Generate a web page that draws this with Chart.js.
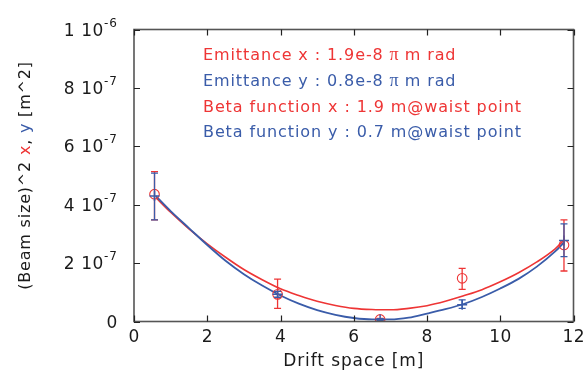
<!DOCTYPE html>
<html>
<head>
<meta charset="utf-8">
<script src="https://cdn.jsdelivr.net/npm/chart.js@4/dist/chart.umd.min.js"></script>
<style>
html,body{margin:0;padding:0;background:#fff;}
#wrap{width:583px;height:372px;position:relative;}
</style>
</head>
<body>
<div id="wrap"><canvas id="c" width="583" height="372"></canvas></div>
<script>
// ---- data ----
const xTicks = [0, 2, 4, 6, 8, 10, 12];
const xTickLabels = ['0', '2', '4', '6', '8', '10', '12'];
const yTicks = [0, 2e-7, 4e-7, 6e-7, 8e-7, 1e-6];
const yTickMain = ['0', '2 10', '4 10', '6 10', '8 10', '1 10'];
const yTickSup = ['', '-7', '-7', '-7', '-7', '-6'];

const measS = [0.56, 3.92, 6.72, 8.96, 11.74];
const sizeX2 = [4.36e-7, 0.93e-7, 0.07e-7, 1.48e-7, 2.62e-7];
const sizeX2Hi = [5.13e-7, 1.45e-7, 0.11e-7, 1.82e-7, 3.48e-7];
const sizeX2Lo = [3.48e-7, 0.45e-7, 0.03e-7, 1.10e-7, 1.73e-7];
const sizeY2 = [4.30e-7, 0.93e-7, 0.07e-7, 0.57e-7, 2.77e-7];
const sizeY2Hi = [5.08e-7, 1.03e-7, 0.10e-7, 0.74e-7, 3.34e-7];
const sizeY2Lo = [3.48e-7, 0.83e-7, 0.04e-7, 0.45e-7, 2.22e-7];

const fitS = [0.6, 1, 1.5, 2, 2.5, 3, 3.5, 4, 4.5, 5, 5.5, 6, 6.5, 7, 7.5, 8, 8.5, 9, 9.5, 10, 10.5, 11, 11.5, 11.75];
const fitX2 = [4.24e-7, 3.74e-7, 3.17e-7, 2.66e-7, 2.20e-7, 1.78e-7, 1.43e-7, 1.12e-7, 0.89e-7, 0.69e-7, 0.55e-7, 0.45e-7, 0.41e-7, 0.40e-7, 0.45e-7, 0.54e-7, 0.69e-7, 0.88e-7, 1.09e-7, 1.36e-7, 1.67e-7, 2.04e-7, 2.49e-7, 2.80e-7];
const fitY2 = [4.29e-7, 3.78e-7, 3.20e-7, 2.62e-7, 2.08e-7, 1.62e-7, 1.23e-7, 0.89e-7, 0.61e-7, 0.39e-7, 0.23e-7, 0.12e-7, 0.07e-7, 0.07e-7, 0.13e-7, 0.27e-7, 0.42e-7, 0.60e-7, 0.84e-7, 1.13e-7, 1.46e-7, 1.88e-7, 2.40e-7, 2.72e-7];

const legendLines = [
  {color: 'red', runs: ['Emittance x : 1.9e-8 ', 'π', ' m rad']},
  {color: 'blue', runs: ['Emittance y : 0.8e-8 ', 'π', ' m rad']},
  {color: 'red', runs: ['Beta function x : 1.9 m@waist point']},
  {color: 'blue', runs: ['Beta function y : 0.7 m@waist point']}
];
const xTitle = 'Drift space [m]';
const yTitleRuns = [['(Beam size)^2 ', 'black'], ['x', 'red'], [', ', 'black'], ['y', 'blue'], [' [m^2]', 'black']];

// ---- styles ----
const RED = '#ee3535';
const BLUE = '#3a5ca9';
const INK = '#1a1a1a';
const FONT = '"DejaVu Sans", sans-serif';
const colorOf = c => c === 'red' ? RED : (c === 'blue' ? BLUE : INK);

const pts = (xs, ys) => xs.map((x, i) => ({x: x, y: ys[i]}));

const errPlugin = {
  id: 'errbars',
  afterDatasetsDraw(chart) {
    const ctx = chart.ctx, xs = chart.scales.x, ys = chart.scales.y;
    const draw = (hi, lo, col) => {
      ctx.save();
      ctx.strokeStyle = col; ctx.lineWidth = 1.3;
      measS.forEach((s, i) => {
        const px = xs.getPixelForValue(s);
        const ph = ys.getPixelForValue(hi[i]);
        const pl = ys.getPixelForValue(lo[i]);
        ctx.beginPath();
        ctx.moveTo(px, ph); ctx.lineTo(px, pl);
        ctx.moveTo(px - 3.5, ph); ctx.lineTo(px + 3.5, ph);
        ctx.moveTo(px - 3.5, pl); ctx.lineTo(px + 3.5, pl);
        ctx.stroke();
      });
      ctx.restore();
    };
    draw(sizeX2Hi, sizeX2Lo, RED);
    draw(sizeY2Hi, sizeY2Lo, BLUE);
  }
};

const framePlugin = {
  id: 'frame',
  afterDraw(chart) {
    const ctx = chart.ctx, xs = chart.scales.x, ys = chart.scales.y;
    const a = chart.chartArea;
    ctx.save();
    // frame
    ctx.strokeStyle = '#555'; ctx.lineWidth = 1.6;
    ctx.strokeRect(a.left, a.top, a.right - a.left, a.bottom - a.top);
    // ticks (inward)
    ctx.strokeStyle = '#222'; ctx.lineWidth = 1.2;
    const TL = 6;
    ctx.beginPath();
    xTicks.forEach(v => {
      const p = Math.round(xs.getPixelForValue(v)) + 0.5;
      ctx.moveTo(p, a.bottom); ctx.lineTo(p, a.bottom - TL);
      ctx.moveTo(p, a.top); ctx.lineTo(p, a.top + TL);
    });
    yTicks.forEach(v => {
      const p = Math.round(ys.getPixelForValue(v)) + 0.5;
      ctx.moveTo(a.left, p); ctx.lineTo(a.left + TL, p);
      ctx.moveTo(a.right, p); ctx.lineTo(a.right - TL, p);
    });
    ctx.stroke();
    // x tick labels
    ctx.fillStyle = INK;
    ctx.font = '17px ' + FONT;
    ctx.letterSpacing = '0.6px';
    ctx.textAlign = 'center'; ctx.textBaseline = 'middle';
    xTicks.forEach((v, i) => {
      ctx.fillText(xTickLabels[i], xs.getPixelForValue(v) + 0.3, a.bottom + 16);
    });
    // y tick labels with superscript
    const rightEdge = a.left - 16;
    yTicks.forEach((v, i) => {
      const p = ys.getPixelForValue(v);
      ctx.textAlign = 'left'; ctx.textBaseline = 'alphabetic';
      ctx.font = '12px ' + FONT;
      ctx.letterSpacing = '1px';
      const sw = yTickSup[i] ? ctx.measureText(yTickSup[i]).width : 0;
      if (yTickSup[i]) ctx.fillText(yTickSup[i], rightEdge - sw, p - 3);
      ctx.font = '17px ' + FONT;
      ctx.letterSpacing = '0.6px';
      const mw = ctx.measureText(yTickMain[i]).width;
      ctx.fillText(yTickMain[i], rightEdge - sw - mw, p + 6);
    });
    // x title
    ctx.font = '17px ' + FONT;
    ctx.letterSpacing = '0.9px';
    ctx.textAlign = 'center'; ctx.textBaseline = 'middle';
    ctx.fillStyle = INK;
    ctx.fillText(xTitle, (a.left + a.right) / 2, 362);
    // y title rotated
    ctx.save();
    ctx.translate(26, (a.top + a.bottom) / 2);
    ctx.rotate(-Math.PI / 2);
    ctx.font = '16px ' + FONT;
    ctx.letterSpacing = '0.8px';
    let total = 0;
    yTitleRuns.forEach(r => total += ctx.measureText(r[0]).width);
    let x0 = -total / 2;
    ctx.textAlign = 'left'; ctx.textBaseline = 'middle';
    yTitleRuns.forEach(r => {
      ctx.fillStyle = colorOf(r[1]);
      ctx.fillText(r[0], x0, 0);
      x0 += ctx.measureText(r[0]).width;
    });
    ctx.restore();
    // legend text
    const lx = 203;
    const lys = [60, 86, 111.5, 137];
    legendLines.forEach((ln, i) => {
      let x = lx;
      ctx.fillStyle = colorOf(ln.color);
      ctx.textAlign = 'left'; ctx.textBaseline = 'alphabetic';
      ln.runs.forEach(r => {
        if (r === 'π') { ctx.font = '18px "Liberation Serif", serif'; ctx.letterSpacing = '0px'; }
        else { ctx.font = '16px ' + FONT; ctx.letterSpacing = '0.9px'; }
        ctx.fillText(r, x, lys[i]);
        x += ctx.measureText(r).width;
      });
    });
    ctx.restore();
  }
};

new Chart(document.getElementById('c'), {
  type: 'scatter',
  data: {
    datasets: [
      {label: 'fit y', data: pts(fitS, fitY2), showLine: true, borderColor: BLUE, borderWidth: 1.8,
        pointRadius: 0, cubicInterpolationMode: 'monotone', order: 3},
      {label: 'fit x', data: pts(fitS, fitX2), showLine: true, borderColor: RED, borderWidth: 1.6,
        pointRadius: 0, cubicInterpolationMode: 'monotone', order: 4},
      {label: 'meas x', data: pts(measS, sizeX2), pointStyle: 'circle', pointRadius: 4.8,
        borderColor: RED, backgroundColor: 'rgba(0,0,0,0)', borderWidth: 1.1, order: 2},
      {label: 'meas y', data: pts(measS, sizeY2), pointStyle: 'cross', pointRadius: 5,
        borderColor: BLUE, borderWidth: 1.5, order: 1}
    ]
  },
  options: {
    responsive: false,
    animation: false,
    layout: {padding: {left: 134, right: 9.5, top: 29.5, bottom: 50.5}},
    plugins: {legend: {display: false}, tooltip: {enabled: false}},
    scales: {
      x: {type: 'linear', min: 0, max: 12,
        ticks: {display: false}, grid: {display: false, drawTicks: false}, border: {display: false},
        afterFit: s => { s.height = 0; }},
      y: {type: 'linear', min: 0, max: 1e-6,
        ticks: {display: false}, grid: {display: false, drawTicks: false}, border: {display: false},
        afterFit: s => { s.width = 0; }}
    }
  },
  plugins: [errPlugin, framePlugin]
});
</script>
</body>
</html>
